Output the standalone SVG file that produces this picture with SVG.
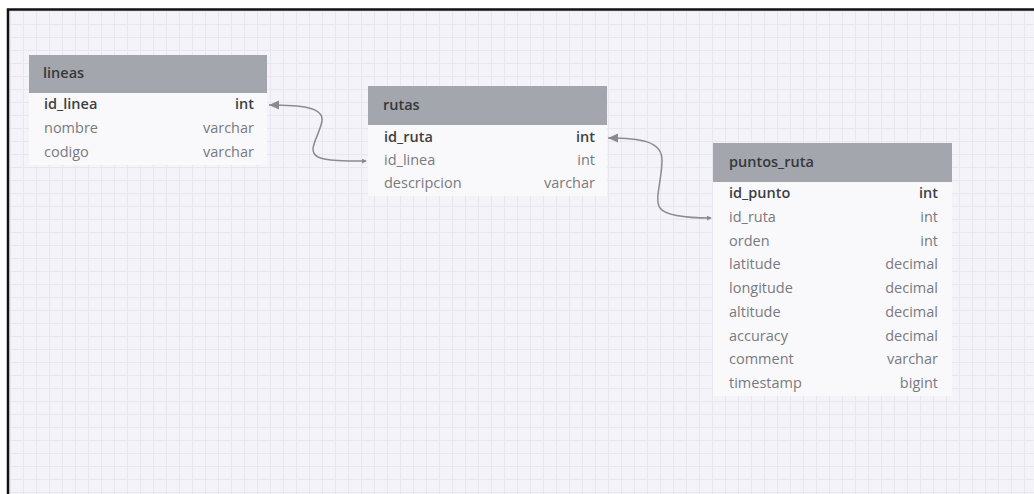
<svg xmlns="http://www.w3.org/2000/svg" width="1034" height="494" viewBox="0 0 1034 494">
<defs>
<pattern id="grid" x="10" y="11" width="13" height="13" patternUnits="userSpaceOnUse">
<rect width="13" height="13" fill="#f4f3fa"/>
<path d="M0 0.5H13M0.5 0V13" stroke="#e8e7f0" stroke-width="1" fill="none"/>
</pattern>
<marker id="arr" viewBox="0 0 10 10" refX="0" refY="5" markerWidth="10" markerHeight="10" markerUnits="userSpaceOnUse" orient="auto">
<path d="M0 5L10 0.5L10 9.5Z" fill="#8a8a8e"/>
</marker>
<marker id="tick" viewBox="0 0 6 6" refX="5" refY="3" markerWidth="5" markerHeight="5" markerUnits="userSpaceOnUse" orient="auto">
<path d="M0 0L6 3L0 6Z" fill="#8a8a8e"/>
</marker>
</defs>
<style>
.hd{fill:#a3a6ac}
.bd{fill:#f9f9fc}
.t{font-family:"Open Sans","Noto Sans",sans-serif;font-size:14.5px;fill:#7a7a7e}
.pk{fill:#3e3f43;font-weight:600}
.ti{font-family:"Open Sans","Noto Sans",sans-serif;font-size:14.5px;fill:#36383c;font-weight:600}
.r{text-anchor:end}
.c{fill:none;stroke:#8c8c90;stroke-width:1.5}
</style>
<rect width="1034" height="494" fill="#ffffff"/>
<rect x="9" y="10" width="1025" height="484" fill="url(#grid)"/>
<path d="M8 494V9.5H1034" fill="none" stroke="#111" stroke-width="2.5"/>

<g id="connectors">
<path class="c" d="M269 105C300 105 324 107 322 121C319 137 306 151 318 157C326 161 346 161 366 161" marker-start="url(#arr)" marker-end="url(#tick)"/>
<path class="c" d="M608 138C640 138 662 141 662 160C662 180 654 200 660 208C666 216 690 218 711 218" marker-start="url(#arr)" marker-end="url(#tick)"/>
</g>

<g id="lineas">
<rect class="bd" x="29" y="93" width="238" height="72"/>
<rect class="hd" x="29" y="55" width="238" height="38"/>
<text class="ti" x="43" y="78">lineas</text>
<text class="t pk" x="44" y="109">id_linea</text><text class="t pk r" x="254" y="109">int</text>
<text class="t" x="44" y="133">nombre</text><text class="t r" x="254" y="133">varchar</text>
<text class="t" x="44" y="157">codigo</text><text class="t r" x="254" y="157">varchar</text>
</g>

<g id="rutas">
<rect class="bd" x="368" y="125" width="239" height="71"/>
<rect class="hd" x="368" y="86" width="239" height="39"/>
<text class="ti" x="383" y="110" font-weight="400">rutas</text>
<text class="t pk" x="384" y="142">id_ruta</text><text class="t pk r" x="595" y="142">int</text>
<text class="t" x="384" y="165">id_linea</text><text class="t r" x="595" y="165">int</text>
<text class="t" x="384" y="188">descripcion</text><text class="t r" x="595" y="188">varchar</text>
</g>

<g id="puntos_ruta">
<rect class="bd" x="713" y="182" width="239" height="214"/>
<rect class="hd" x="713" y="143" width="239" height="39"/>
<text class="ti" x="729" y="167">puntos_ruta</text>
<text class="t pk" x="729" y="198">id_punto</text><text class="t pk r" x="938" y="198">int</text>
<text class="t" x="729" y="222">id_ruta</text><text class="t r" x="938" y="222">int</text>
<text class="t" x="729" y="246">orden</text><text class="t r" x="938" y="246">int</text>
<text class="t" x="729" y="269">latitude</text><text class="t r" x="938" y="269">decimal</text>
<text class="t" x="729" y="293">longitude</text><text class="t r" x="938" y="293">decimal</text>
<text class="t" x="729" y="317">altitude</text><text class="t r" x="938" y="317">decimal</text>
<text class="t" x="729" y="341">accuracy</text><text class="t r" x="938" y="341">decimal</text>
<text class="t" x="729" y="364">comment</text><text class="t r" x="938" y="364">varchar</text>
<text class="t" x="729" y="388">timestamp</text><text class="t r" x="938" y="388">bigint</text>
</g>
</svg>
